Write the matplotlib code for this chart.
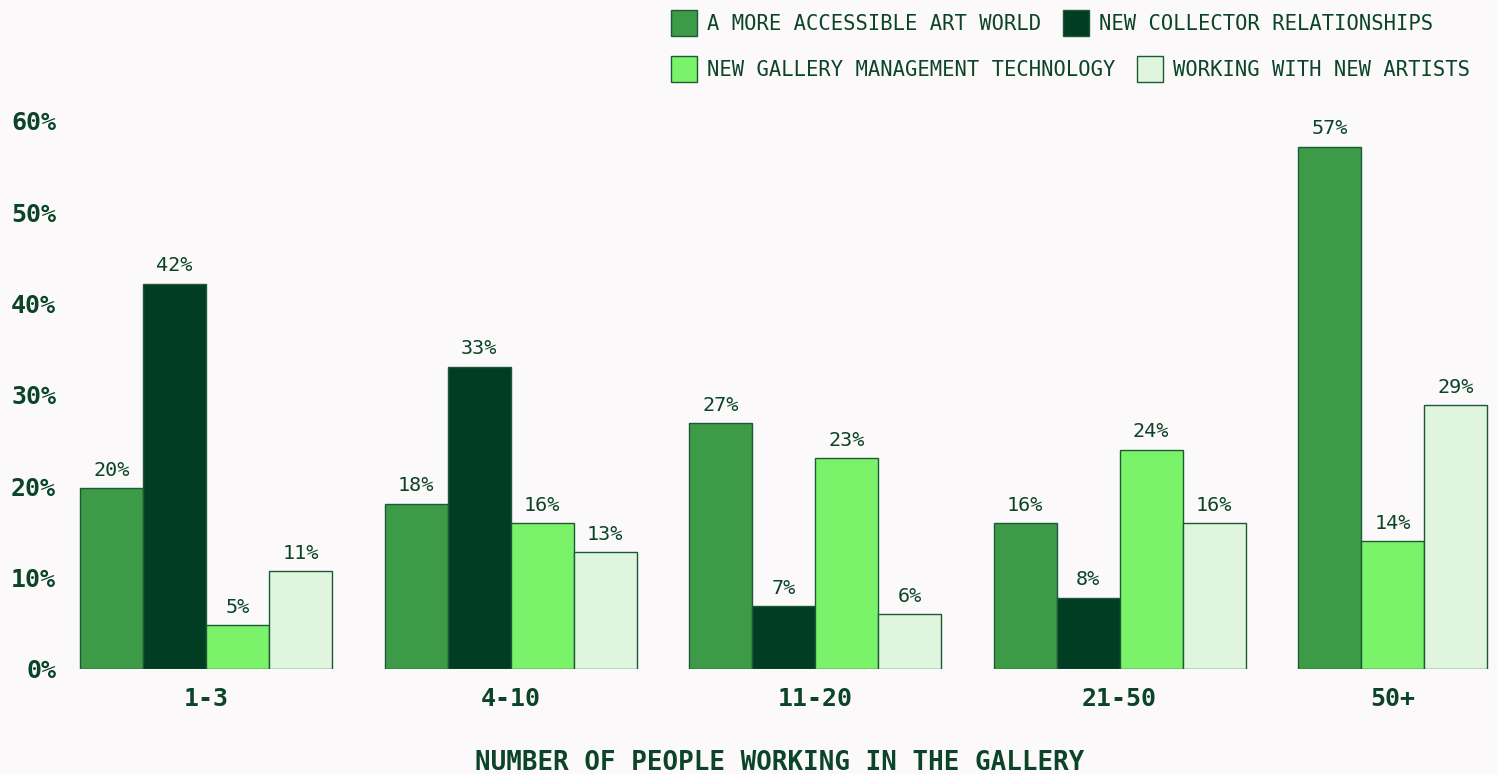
import matplotlib
matplotlib.use("Agg")
import matplotlib.pyplot as plt
from matplotlib.patches import Rectangle

categories = ["1-3", "4-10", "11-20", "21-50", "50+"]
series_names = ["A MORE ACCESSIBLE ART WORLD", "NEW COLLECTOR RELATIONSHIPS",
                "NEW GALLERY MANAGEMENT TECHNOLOGY", "WORKING WITH NEW ARTISTS"]
accessible = [19.8, 18.1, 26.9, 16.0, 57.2]
collector = [42.2, 33.1, 6.9, 7.8, None]
gallery_tech = [4.8, 16.0, 23.1, 24.0, 14.0]
new_artists = [10.7, 12.8, 6.0, 16.0, 28.9]
yticks = [0, 10, 20, 30, 40, 50, 60]

colors = ["#3d9a47", "#013d23", "#7af26a", "#dff5de"]
edge = "#1c5a36"
text_col = "#0b4428"
bg = "#fcf9fa"
font = "DejaVu Sans Mono"

W, H = 1498, 774
fig = plt.figure(figsize=(W / 100, H / 100), dpi=100, facecolor=bg)

# axes placed in pixels: x from 70 to 1490, y from 669 (0%) to 121 (60%)
ax = fig.add_axes([70 / W, (H - 669) / H, 1420 / W, (669 - 121) / H])
ax.set_facecolor(bg)
ax.set_xlim(-10 / 63, 1410 / 63)
ax.set_ylim(0, 60)

series = [accessible, collector, gallery_tech, new_artists]
group_step = 304.5 / 63
centers = []
for g in range(len(categories)):
    start = g * group_step
    k = 0
    for s, vals in enumerate(series):
        v = vals[g]
        if v is None:
            continue
        x = start + k
        ax.bar(x, v, width=1, align="edge", color=colors[s], edgecolor=edge, linewidth=1.0)
        ax.annotate(f"{round(v)}%", (x + 0.5, v), xytext=(0, 6), textcoords="offset points",
                    ha="center", va="bottom", fontsize=14.5, family=font, color=text_col,
                    annotation_clip=False)
        k += 1
    centers.append(start + k / 2)

ax.set_xticks(centers)
ax.set_xticklabels(categories, fontsize=18, fontweight="bold", family=font, color=text_col)
ax.set_yticks(yticks)
ax.set_yticklabels([f"{t}%" for t in yticks], fontsize=18, fontweight="bold", family=font, color=text_col)
ax.tick_params(axis="x", length=0, pad=13)
ax.tick_params(axis="y", length=0, pad=10)
for sp in ax.spines.values():
    sp.set_visible(False)
ax.set_xlabel("NUMBER OF PEOPLE WORKING IN THE GALLERY", fontsize=18.6, fontweight="bold",
              family=font, color=text_col, labelpad=28)

# legend laid out as a flowing two-row block, left aligned at x=671
fig.canvas.draw()
renderer = fig.canvas.get_renderer()
rows = [[0, 1], [2, 3]]
row_y = [23, 69]
sq = 26
for r, idxs in enumerate(rows):
    x = 671
    yc = row_y[r]
    for i in idxs:
        fig.patches.append(Rectangle((x / W, (H - yc - sq / 2) / H), sq / W, sq / H,
                                     transform=fig.transFigure, facecolor=colors[i],
                                     edgecolor=edge, linewidth=1.0))
        t = fig.text((x + sq + 10) / W, (H - yc - 1) / H, series_names[i], fontsize=14.8,
                     family=font, color=text_col, ha="left", va="center")
        bb = t.get_window_extent(renderer)
        x = bb.x1 + 22

fig.savefig("out.png", dpi=100, facecolor=bg)
